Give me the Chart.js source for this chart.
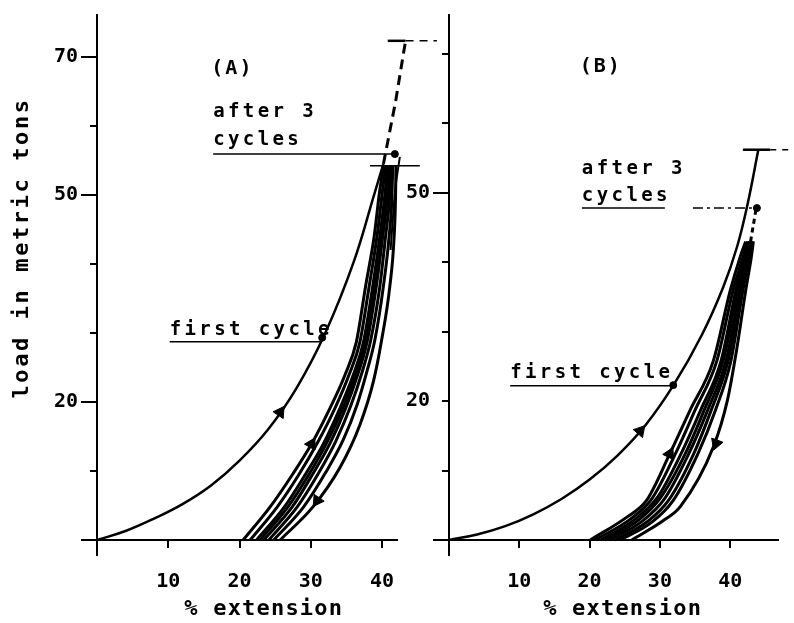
<!DOCTYPE html>
<html>
<head>
<meta charset="utf-8">
<script src="https://cdn.jsdelivr.net/npm/chart.js@4.4.1/dist/chart.umd.min.js"></script>
<style>
  html, body { margin: 0; padding: 0; background: #fff; }
  #wrap { position: relative; width: 794px; height: 623px; }
  canvas { position: absolute; left: 0; top: 0; }
</style>
</head>
<body>
<div id="wrap">
  <canvas id="chartA" width="794" height="623"></canvas>
  <canvas id="chartB" width="794" height="623"></canvas>
</div>
<script>
// tick labels
const xTicks = [10, 20, 30, 40];
const yLabelsA = [20, 50, 70];
const yLabelsB = [20, 50];

// ---- panel (A): [% extension, load in t] ----
const firstCycleA = [[0,0],[4,1.3],[8,3.1],[12,5.2],[16,7.9],[20,11.5],[24,16],[28,22],[32,29.9],[36,40.2],[39,50.4],[40.2,54.5]];
const breakA = [[40.2,54.5],[41.9,63.5],[43.3,72.3]];
const capA = [[40.8,72.3],[43.3,72.3]];
const capDashA = [[43.3,72.3],[47.7,72.3]];
const thinA = [[41.2,42],[41.8,50.2],[42.5,55.5],[43,59],[43.4,62.2]];
const leaderA = [[16.3,55.9],[42.1,55.9]];
const markA = [[38.3,54.2],[45.3,54.2]];
const underFirstA = [[10.2,28.7],[31.3,28.7]];
const loadA1 = [[20.5,0],[24.3,4.8],[27.5,9.6],[30.1,13.9],[32.7,19.1],[34.8,23.9],[36.4,28.7],[37.7,36.8],[38.9,44],[39.6,50],[40.2,54.2]];
const loadA2 = [[21.5,0],[25.3,4.8],[28.4,9.6],[30.9,14],[33.4,19.1],[35.4,24],[36.9,28.7],[38.2,36.8],[39.3,44],[40,50],[40.5,54.2]];
const loadA3 = [[22.4,0],[26.3,4.8],[29.3,9.6],[31.8,14],[34.1,19.1],[36,24],[37.4,28.7],[38.7,36.8],[39.7,44],[40.4,50],[40.8,54.2]];
const loadA4 = [[22.9,0],[26.8,4.8],[29.8,9.6],[32.2,14],[34.5,19.1],[36.3,24],[37.6,28.7],[38.9,36.8],[39.9,44],[40.6,50],[41,54.2]];
const unloadA1 = [[23.4,0],[27.4,4.8],[30.3,9.6],[32.7,14],[34.9,19.1],[36.6,24],[37.9,28.7],[39.2,36.8],[40.1,44],[40.8,50],[41.1,54.2]];
const unloadA2 = [[24.1,0],[28.1,4.8],[31.1,9.7],[33.5,14.3],[35.6,19.4],[37.2,24.3],[38.4,28.9],[39.7,36.8],[40.5,44],[41.1,50],[41.3,54.2]];
const unloadA3 = [[24.8,0],[29,4.8],[32.1,9.8],[34.6,14.6],[36.5,19.6],[37.9,24.5],[39,29],[40.2,36.8],[41,44],[41.4,50],[41.5,54.2]];
const unloadA4 = [[25.7,0],[30.3,4.8],[34.1,10.5],[36.9,16.7],[38.8,23],[39.9,28.7],[41.1,36.8],[41.7,44],[41.9,50],[41.95,54.2]];
const dotsA = [[41.8,55.9],[31.6,29.3]];
const arrowsA = [[25.7,18.5],[30.1,13.9],[30.9,5.7]];
const arrowTurnA = [34, 29, 214];

// ---- panel (B) ----
const firstCycleB = [[0,0],[4,0.8],[8,2],[12,3.7],[16,5.9],[20,8.7],[24,12.2],[28,16.6],[32,22.4],[36,29.6],[39,36.4],[41,42.3],[42.5,48.5],[44,56.2]];
const capB = [[41.8,56.2],[45.7,56.2]];
const capDashB = [[45.7,56.2],[49.1,56.2]];
const topDashB = [[42.9,43],[43.7,47.8]];
const underCyclesB = [[18.9,47.8],[30.7,47.8]];
const leaderB = [[34.7,47.8],[43.5,47.8]];
const underFirstB = [[8.7,22.2],[32,22.2]];
const loadB1 = [[20.1,0],[25.3,3.3],[28.1,5.7],[31.4,12.4],[34.3,18.7],[37.6,25.8],[40,35.9],[41.4,40.7],[42.2,43]];
const loadB2 = [[20.8,0],[25.8,3],[28.9,6],[32.2,12.4],[35,18.7],[38.1,25.8],[40.4,35.9],[41.8,40.7],[42.5,43]];
const loadB3 = [[21.6,0],[26.5,3],[29.7,6.2],[33,12.4],[35.8,18.7],[38.7,25.8],[40.8,35.9],[42,40.7],[42.7,43]];
const loadB4 = [[22.1,0],[27,2.9],[30.1,6.1],[33.6,12.4],[36.3,18.7],[39,25.8],[41.1,35.9],[42.2,40.7],[42.8,43]];
const unloadB1 = [[22.8,0],[27.6,2.8],[30.7,6],[34.1,12.4],[36.8,18.7],[39.4,25.8],[41.4,35.9],[42.4,40.7],[42.95,43]];
const unloadB2 = [[23.6,0],[28.3,2.7],[31.3,5.8],[34.8,12.4],[37.3,18.7],[39.7,25.8],[41.6,35.9],[42.5,40.7],[43.05,43]];
const unloadB3 = [[24.4,0],[28.9,2.6],[31.9,5.7],[35.4,12.4],[37.9,18.7],[40.1,25.8],[41.8,35.9],[42.7,40.7],[43.15,43]];
const unloadB4 = [[26,0],[30.5,2.8],[32.9,4.8],[37.6,13.4],[39.6,20.1],[40.9,27.3],[42.2,35.9],[43,40.7],[43.3,43]];
const dotsB = [[43.8,47.8],[31.9,22.3]];
const arrowsB = [[27.2,15.7],[31.4,12.4],[38,13.9]];
const arrowTurnB = [41, 26, 200];

const MONO = '"DejaVu Sans Mono", monospace';
const TL = 16;

const pts = arr => arr.map(([x, y]) => ({x, y}));

// mode: 'monotone' (default), 'bezier' or false (straight)
function line(data, width, dash, mode) {
  const m = mode === undefined ? 'monotone' : mode;
  return {
    data: pts(data), showLine: true, borderColor: '#000', borderWidth: width,
    borderDash: dash || [], pointRadius: 0,
    tension: m === false ? 0 : 0.4,
    cubicInterpolationMode: m === 'monotone' ? 'monotone' : 'default',
    fill: false, clip: false
  };
}

function dots(data) {
  return { data: pts(data), showLine: false, pointRadius: 3.5, pointBackgroundColor: '#000',
           pointBorderColor: '#000', clip: false };
}

function arrows(data, turn) {
  return { data: pts(data), showLine: false, pointStyle: 'triangle', pointRadius: 7,
           pointRotation: turn, pointBackgroundColor: '#000', pointBorderColor: '#000',
           pointBorderWidth: 1, clip: false };
}

// text written on the plot, positioned in data units
const notesPlugin = {
  id: 'notes',
  afterDatasetsDraw(chart, args, opts) {
    const {ctx, scales} = chart;
    ctx.save();
    ctx.fillStyle = '#000';
    ctx.textBaseline = 'middle';
    (opts.items || []).forEach(n => {
      const px = scales.x.getPixelForValue(n.x);
      const py = scales.y.getPixelForValue(n.y);
      ctx.font = n.font || 'bold 19px ' + MONO;
      ctx.letterSpacing = n.spacing || '3.4px';
      ctx.textAlign = n.align || 'left';
      ctx.save();
      ctx.translate(px, py);
      if (n.rotate) ctx.rotate(n.rotate);
      ctx.fillText(n.text, 0, 0);
      ctx.restore();
    });
    ctx.restore();
  }
};

function axes(xMax, yMax, yLabels, longY) {
  return {
    x: {
      type: 'linear', position: 'bottom', min: 0, max: xMax,
      afterFit: s => { s.height = 83; },
      border: { color: '#000', width: 2 },
      grid: {
        drawOnChartArea: false, color: '#000', lineWidth: 2, tickLength: TL,
        tickBorderDash: c => (c.tick && c.tick.value === 0) ? [] : [7, 100]
      },
      ticks: {
        stepSize: 10, includeBounds: false, autoSkip: false, maxRotation: 0,
        color: '#000', padding: 14, font: { family: MONO, size: 20, weight: 'bold' },
        callback: v => xTicks.includes(v) ? String(v) : ''
      }
    },
    y: {
      type: 'linear', position: 'left', min: 0, max: yMax,
      afterFit: s => { s.width = s.chart.canvas.id === 'chartA' ? 97 : 449; },
      border: { color: '#000', width: 2 },
      grid: {
        drawOnChartArea: false, color: '#000', lineWidth: 2, tickLength: TL,
        tickBorderDash: c => (c.tick && longY.includes(c.tick.value)) ? [] : [0, TL - 7, 7, 100]
      },
      ticks: {
        stepSize: 10, includeBounds: false, autoSkip: false,
        color: '#000', padding: 3, font: { family: MONO, size: 20, weight: 'bold' },
        callback: v => yLabels.includes(v) ? String(v) : ''
      }
    }
  };
}

const baseOptions = {
  responsive: false, animation: false, events: [],
  plugins: { legend: { display: false }, tooltip: { enabled: false } }
};

new Chart(document.getElementById('chartA'), {
  type: 'scatter',
  data: {
    datasets: [
      line(firstCycleA, 2.5, [], 'bezier'),
      line(breakA, 3, [10, 6], false),
      line(capA, 2.5, [], false),
      line(capDashA, 1.5, [8, 6], false),
      line(thinA, 2),
      line(leaderA, 1.5, [], false),
      line(markA, 1.5, [], false),
      line(underFirstA, 1.5, [], false),
      line(loadA1, 3), line(loadA2, 3), line(loadA3, 3), line(loadA4, 3),
      line(unloadA1, 3), line(unloadA2, 3), line(unloadA3, 3), line(unloadA4, 3),
      dots(dotsA),
      arrows(arrowsA, arrowTurnA)
    ]
  },
  options: Object.assign({}, baseOptions, {
    layout: { padding: { top: 10, right: 397, left: 0, bottom: 0 } },
    scales: axes(42.1, 76.04, yLabelsA, [0, 20, 50, 70]),
    plugins: Object.assign({}, baseOptions.plugins, {
      notes: { items: [
        { text: '(A)', x: 19, y: 68.2, align: 'center', spacing: '2px', font: 'bold 20px ' + MONO },
        { text: 'after 3', x: 16.3, y: 62 },
        { text: 'cycles', x: 16.3, y: 57.9 },
        { text: 'first cycle', x: 10.2, y: 30.4 },
        { text: '% extension', x: 23.4, y: -10, align: 'center', spacing: '1.2px', font: 'bold 22px ' + MONO },
        { text: 'load in metric tons', x: -10.5, y: 42.3, align: 'center', spacing: '2.6px',
          font: 'bold 22px ' + MONO, rotate: -Math.PI / 2 }
      ] }
    })
  }),
  plugins: [notesPlugin]
});

new Chart(document.getElementById('chartB'), {
  type: 'scatter',
  data: {
    datasets: [
      line(firstCycleB, 2.5, [], 'bezier'),
      line(capB, 2.5, [], false),
      line(capDashB, 1.5, [6, 6], false),
      line(topDashB, 3, [5, 4], false),
      line(underCyclesB, 1.5, [], false),
      line(leaderB, 1.5, [10, 4, 3, 4], false),
      line(underFirstB, 1.5, [], false),
      line(loadB1, 3), line(loadB2, 3), line(loadB3, 3), line(loadB4, 3),
      line(unloadB1, 3), line(unloadB2, 3), line(unloadB3, 3), line(unloadB4, 3),
      dots(dotsB),
      arrows(arrowsB, arrowTurnB)
    ]
  },
  options: Object.assign({}, baseOptions, {
    layout: { padding: { top: 13, right: 16, left: 0, bottom: 0 } },
    scales: axes(46.8, 75.6, yLabelsB, [0, 50]),
    plugins: Object.assign({}, baseOptions.plugins, {
      notes: { items: [
        { text: '(B)', x: 21.6, y: 68.2, align: 'center', spacing: '2px', font: 'bold 20px ' + MONO },
        { text: 'after 3', x: 18.9, y: 53.4 },
        { text: 'cycles', x: 18.9, y: 49.5 },
        { text: 'first cycle', x: 8.7, y: 24 },
        { text: '% extension', x: 24.7, y: -10, align: 'center', spacing: '1.2px', font: 'bold 22px ' + MONO }
      ] }
    })
  }),
  plugins: [notesPlugin]
});
</script>
</body>
</html>
